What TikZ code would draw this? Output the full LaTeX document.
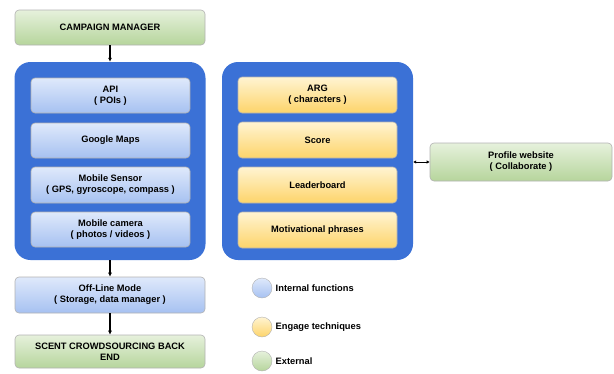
\documentclass[tikz,border=0pt]{standalone}
\usepackage{fontspec}
\setmainfont{Liberation Sans}
\usetikzlibrary{arrows.meta}

\definecolor{outerblue}{HTML}{3B71D6}
\definecolor{blueTop}{HTML}{DFE9FB}
\definecolor{blueBot}{HTML}{A6C1F1}
\definecolor{yellowTop}{HTML}{FFF4D2}
\definecolor{yellowBot}{HTML}{FDD46A}
\definecolor{greenTop}{HTML}{E6F1DC}
\definecolor{greenBot}{HTML}{B6D59C}

\tikzset{
    box/.style={rectangle, rounded corners=4pt, draw=black!30, line width=0.6pt,
        align=center, inner sep=0pt, font=\fontsize{9.3}{11}\selectfont\bfseries},
    bluebox/.style={box, top color=blueTop, bottom color=blueBot},
    yellowbox/.style={box, top color=yellowTop, bottom color=yellowBot},
    greenbox/.style={box, top color=greenTop, bottom color=greenBot},
    container/.style={rectangle, rounded corners=16pt, fill=outerblue,
        minimum width=191pt, minimum height=198pt},
    dot/.style={circle, draw=black!30, minimum size=20pt, inner sep=0pt},
    arr/.style={line width=1.2pt, -{Latex[length=4pt,width=4pt]}}
}

\begin{document}
\begin{tikzpicture}[x=1pt,y=-1pt]
    \useasboundingbox (0,0) rectangle (614,373);

    % left column
    \node[greenbox, minimum width=190pt, minimum height=35pt] (campaign) at (110,27.5) {CAMPAIGN MANAGER};
    \node[container] (leftc) at (110,161) {};
    \node[bluebox, minimum width=159pt, minimum height=35pt] (api) at (110.5,95.5) {API\\( POIs )};
    \node[bluebox, minimum width=159pt, minimum height=35pt] (maps) at (110.5,140.5) {Google Maps};
    \node[bluebox, minimum width=159pt, minimum height=36pt] (sensor) at (110.5,185) {Mobile Sensor\\( GPS, gyroscope, compass )};
    \node[bluebox, minimum width=159pt, minimum height=35pt] (camera) at (110.5,229.5) {Mobile camera\\( photos / videos )};
    \node[bluebox, minimum width=190pt, minimum height=36pt] (offline) at (110,295) {Off-Line Mode\\( Storage, data manager )};
    \node[greenbox, minimum width=190pt, minimum height=33pt] (scent) at (110,351.5) {SCENT CROWDSOURCING BACK\\END};

    \draw[arr] (campaign) -- (leftc);
    \draw[arr] (leftc) -- (offline);
    \draw[arr] (offline) -- (scent);

    % right column
    \node[container] (rightc) at (317.5,161) {};
    \node[yellowbox, minimum width=159pt, minimum height=36pt] (arg) at (317.5,95) {ARG\\( characters )};
    \node[yellowbox, minimum width=159pt, minimum height=36pt] (score) at (317.5,140) {Score};
    \node[yellowbox, minimum width=159pt, minimum height=36pt] (leader) at (317.5,185) {Leaderboard};
    \node[yellowbox, minimum width=159pt, minimum height=36pt] (motiv) at (317.5,230) {Motivational phrases};

    \node[greenbox, minimum width=182pt, minimum height=38pt] (profile) at (521,162) {Profile website\\( Collaborate )};
    \draw[line width=1pt, {Latex[length=3pt,width=3.5pt]}-{Latex[length=3pt,width=3.5pt]}] (rightc.east |- profile.west) -- (profile.west);

    % legend
    \node[dot, top color=blueTop, bottom color=blueBot] (dint) at (262,288) {};
    \node[dot, top color=yellowTop, bottom color=yellowBot] (deng) at (262,327) {};
    \node[dot, top color=greenTop, bottom color=greenBot] (dext) at (262,361) {};
    \node[anchor=west, font=\fontsize{9.3}{11}\selectfont\bfseries] (lint) at (dint.east) {Internal functions};
    \node[anchor=west, font=\fontsize{9.3}{11}\selectfont\bfseries] (leng) at (deng.east) {Engage techniques};
    \node[anchor=west, font=\fontsize{9.3}{11}\selectfont\bfseries] (lext) at (dext.east) {External};
\end{tikzpicture}
\end{document}
